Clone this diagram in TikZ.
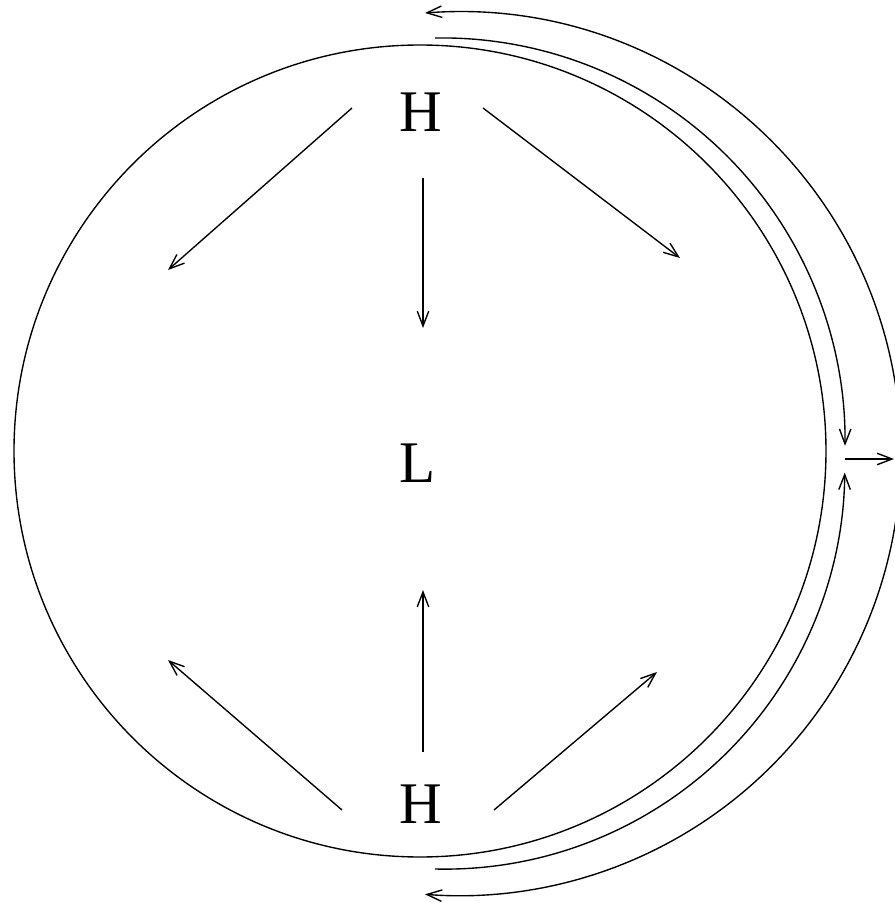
\documentclass[tikz,border=0pt]{standalone}
\usepackage{fontspec}
\setmainfont{Liberation Serif}
\usepackage{tikz}
\usetikzlibrary{arrows.meta}
\tikzset{
  ln/.style    = {draw=black, line width=0.55pt},
  arr/.style   = {ln, -{Straight Barb[length=6pt,width=4.6pt]}},
  arrtw/.style = {ln, {Straight Barb[length=6pt,width=4.6pt]}-{Straight Barb[length=6pt,width=4.6pt]}},
  big/.style   = {font=\fontsize{23.6}{24}\selectfont, inner sep=0pt, outer sep=0pt},
}

\begin{document}
\begin{tikzpicture}[x=0.4pt,y=0.4pt]
\useasboundingbox (0,0) rectangle (895,903);
\clip (0,0) rectangle (895,903);

% ---- the sphere and its labels ----
\coordinate (mid) at (420,452);
\draw[ln] (mid) circle[radius=406];
\node[big] (htop) at (421,791) {H};
\node[big] (low)  at (418,440) {L};
\node[big] (hbot) at (421,99)  {H};

% ---- outflow from the upper H ----
\coordinate (tlS) at (352,795); \coordinate (tlE) at (168,633);
\coordinate (tmS) at (423,725); \coordinate (tmE) at (423,575);
\coordinate (trS) at (483,795); \coordinate (trE) at (680,645);
\draw[arr] (tlS) -- (tlE);
\draw[arr] (tmS) -- (tmE);
\draw[arr] (trS) -- (trE);

% ---- outflow from the lower H ----
\coordinate (blS) at (342,93);  \coordinate (blE) at (168,243);
\coordinate (bmS) at (423,151); \coordinate (bmE) at (423,313);
\coordinate (brS) at (494,93);  \coordinate (brE) at (657,231);
\draw[arr] (blS) -- (blE);
\draw[arr] (bmS) -- (bmE);
\draw[arr] (brS) -- (brE);

% ---- flow round the rim ----
\coordinate (upS) at (435,865);
\draw[arr] (upS) arc[start angle=91, end angle=-0.7, radius=403];
\coordinate (dnS) at (435,34);
\draw[arr] (dnS) arc[start angle=-91.4, end angle=-0.5, radius=400];
\coordinate (outS) at (425,890);
\draw[arrtw] (outS) arc[start angle=94.4, end angle=-94.4, radius=442];

% ---- exit to the right ----
\coordinate (exS) at (845,444);
\coordinate (exE) at (894,444);
\draw[arr] (exS) -- (exE);

\end{tikzpicture}
\end{document}
